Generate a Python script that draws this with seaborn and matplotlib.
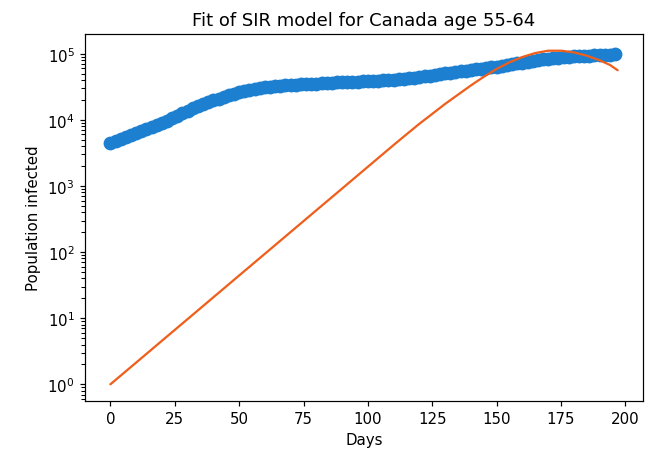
import matplotlib
matplotlib.use("Agg")
import matplotlib.pyplot as plt
import seaborn as sns
import pandas as pd

# Observed data (every 2 days)
obs_days = list(range(0, 197, 2))
obs_infected = [
    4420, 4730, 5070, 5430, 5820, 6240, 6680, 7160, 7670, 8220,
    8910, 9660, 10520, 11480, 12530, 13740, 15070, 16220, 17380, 18530,
    19720, 20890, 22130, 23440, 24830, 26180, 27420, 28510, 29510, 30340,
    31050, 31620, 32210, 32730, 33270, 33730, 34120, 34440, 34750, 35080,
    35400, 35730, 36060, 36390, 36730, 37070, 37320, 37580, 37840, 38110,
    38370, 38730, 39080, 39450, 39810, 40270, 40830, 41500, 42270, 43150,
    44160, 45290, 46560, 47860, 49200, 50350, 51520, 52720, 53950, 55210,
    56490, 57810, 59160, 60530, 61940, 63680, 65460, 67300, 69340, 71450,
    73450, 75510, 77620, 79800, 82040, 84140, 85900, 87500, 88920, 90160,
    91200, 92040, 92900, 93540, 94190, 94840, 95500, 96380, 97720,
]

# SIR fit
fit_days = [0, 10, 20, 30, 40, 50, 60, 70, 80, 90, 100, 110, 115, 120, 125,
            130, 135, 140, 145, 150, 155, 160, 165, 170, 175, 180, 185, 190,
            194, 197]
fit_infected = [1, 2.13, 4.55, 9.7, 20.7, 44.2, 94.2, 201, 429, 914, 1950,
                4160, 6030, 8710, 12300, 17400, 24000, 33100, 44700, 58900,
                74100, 89100, 102300, 110900, 110900, 104700, 93300, 79400,
                67600, 56200]

title = "Fit of SIR model for Canada age 55-64"
xlabel = "Days"
ylabel = "Population infected"

obs = pd.DataFrame({"day": obs_days, "infected": obs_infected})
fit = pd.DataFrame({"day": fit_days, "infected": fit_infected})

sns.set_style("ticks", {"axes.edgecolor": "black", "xtick.color": "black",
                        "ytick.color": "black", "text.color": "black",
                        "axes.labelcolor": "black"})
plt.rcParams["font.family"] = ["DejaVu Sans"]

dpi = 108
fig = plt.figure(figsize=(646 / dpi, 461 / dpi), dpi=dpi)
ax = fig.add_axes([0.1316, 0.128, 0.8638, 0.796])

sns.scatterplot(data=obs, x="day", y="infected", ax=ax, color="#1c7fd0",
                s=85, linewidth=0, zorder=2)
sns.lineplot(data=fit, x="day", y="infected", ax=ax, color="#ee5f1c",
             linewidth=1.5, zorder=3)
ax.set_yscale("log")
ax.set_xticks([0, 25, 50, 75, 100, 125, 150, 175, 200])
ax.set_title(title, fontsize=12)
ax.set_xlabel(xlabel, fontsize=10)
ax.set_ylabel(ylabel, fontsize=10)
ax.tick_params(labelsize=10)
ax.tick_params(axis="y", which="minor", left=True, length=2.5, width=0.7)
for s in ax.spines.values():
    s.set_visible(True)
    s.set_color("black")

fig.savefig("out.png", dpi=dpi)
